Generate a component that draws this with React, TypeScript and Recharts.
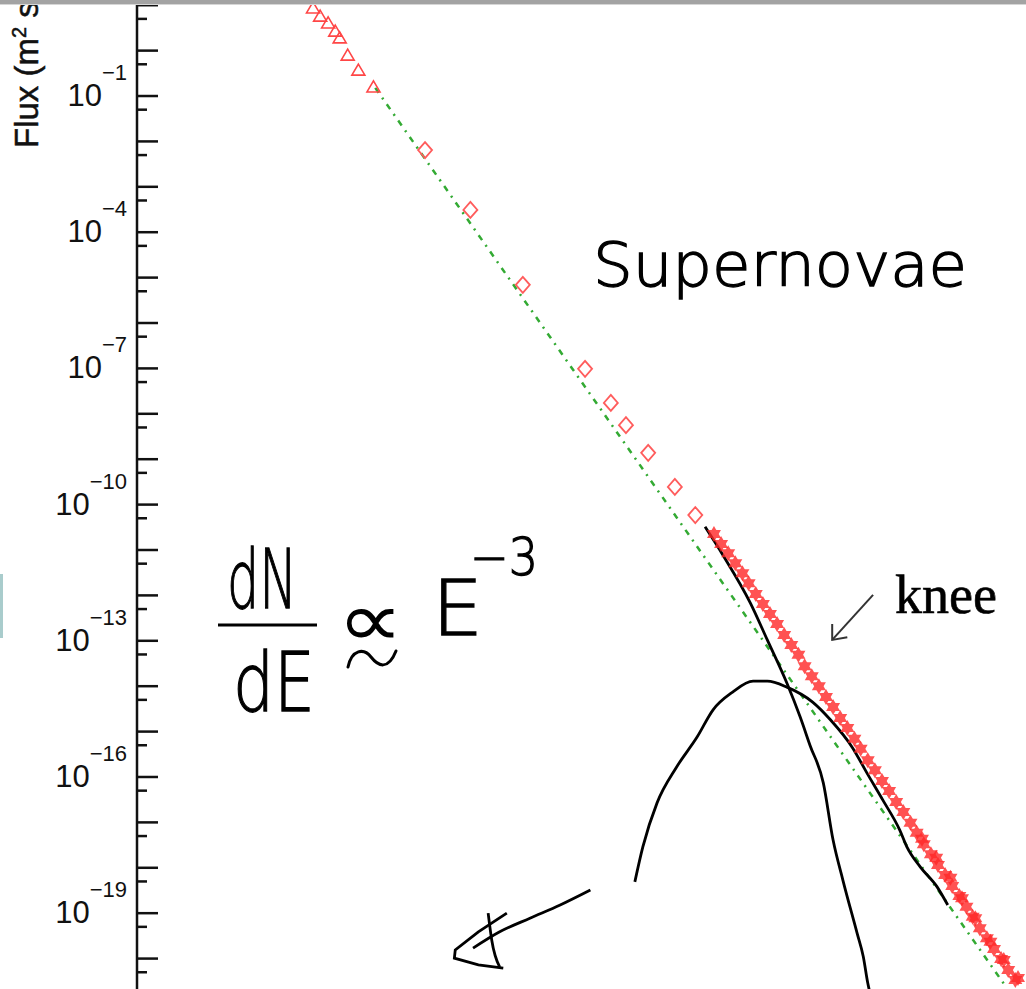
import { ComposedChart, Line, Scatter, XAxis, YAxis } from 'recharts'

// x: log10(E / eV), y: log10(flux)
const TRIANGLE_E = [10.98, 11.06, 11.15, 11.23, 11.28, 11.37, 11.49, 11.66]
const TRIANGLE_F = [0.94, 0.76, 0.61, 0.43, 0.28, -0.1, -0.43, -0.8]

const DIAMOND_E = [12.24, 12.75, 13.34, 14.04, 14.33, 14.5, 14.75, 15.05, 15.28]
const DIAMOND_F = [-2.19, -3.51, -5.16, -7.01, -7.76, -8.25, -8.86, -9.61, -10.23]

const STAR_E = [
  15.49, 15.57, 15.65, 15.73, 15.81, 15.88, 15.96, 16.04, 16.12, 16.2, 16.28, 16.36, 16.44, 16.51, 16.59,
  16.67, 16.75, 16.83, 16.91, 16.99, 17.07, 17.14, 17.22, 17.3, 17.38, 17.46, 17.54, 17.62, 17.7, 17.77,
  17.85, 17.93, 18.01, 18.09, 18.17, 18.25, 18.33, 18.4, 18.48, 18.56, 18.64, 18.72, 18.8, 18.88,
]
const STAR_F = [
  -10.65, -10.87, -11.07, -11.29, -11.51, -11.73, -11.97, -12.19, -12.41, -12.63, -12.87, -13.09, -13.31,
  -13.56, -13.78, -14.0, -14.24, -14.46, -14.7, -14.92, -15.16, -15.38, -15.63, -15.85, -16.09, -16.31,
  -16.55, -16.77, -17.01, -17.23, -17.48, -17.7, -17.94, -18.16, -18.4, -18.62, -18.86, -19.08, -19.33,
  -19.55, -19.79, -20.01, -20.25, -20.47,
]
const STAR2_E = [17.83, 17.99, 18.15, 18.28, 18.43, 18.6, 18.75, 18.91]
const STAR2_F = [-17.36, -17.78, -18.22, -18.67, -19.11, -19.63, -20.03, -20.43]

// E^-3 guide
const GUIDE_E = [11.68, 18.76]
const GUIDE_F = [-0.82, -20.58]

// hand-drawn curves
const STEEP_E = [15.39, 15.59, 15.9, 16.09, 16.31, 16.46, 16.57, 16.72, 16.83, 16.94, 17.1, 17.17, 17.22, 17.25]
const STEEP_F = [-10.49, -11.11, -12.17, -12.98, -13.93, -14.68, -15.3, -16.13, -17.39, -18.27, -19.44, -19.96, -20.54, -20.8]

const BUMP_E = [14.6, 14.69, 14.85, 15.07, 15.3, 15.48, 15.7, 15.93, 16.09, 16.31, 16.6, 16.8, 17.05, 17.21, 17.39, 17.58, 17.66, 17.81, 18.0, 18.12]
const BUMP_F = [-18.31, -17.54, -16.57, -15.78, -15.12, -14.52, -14.13, -13.89, -13.89, -14.02, -14.35, -14.74, -15.36, -15.91, -16.51, -17.17, -17.54, -17.98, -18.42, -18.82]

const ARROW_E = [14.1, 13.76, 13.42, 13.08, 12.78]
const ARROW_F = [-18.49, -18.82, -19.11, -19.41, -19.77]
const ARROWHEAD_E = [13.16, 12.84, 12.58, 12.57, 12.84, 13.12]
const ARROWHEAD_F = [-19.0, -19.41, -19.81, -19.99, -20.14, -20.21]
const ARROWSTROKE_E = [12.95, 12.99, 13.08]
const ARROWSTROKE_F = [-19.0, -19.59, -20.19]

const KNEE_E = [17.28, 16.82]
const KNEE_F = [-11.99, -12.98]
const KNEEHEAD_E = [16.82, 16.82, 16.99]
const KNEEHEAD_F = [-12.63, -12.98, -12.92]

const MAJOR_TICKS = [1, 0, -1, -2, -3, -4, -5, -6, -7, -8, -9, -10, -11, -12, -13, -14, -15, -16, -17, -18, -19, -20]
const MINOR_TICKS = MAJOR_TICKS.map((n) => n - 0.301)
const LABELLED = [-1, -4, -7, -10, -13, -16, -19]

const zip = (xs: number[], ys: number[]) => xs.map((x, i) => ({ x, y: ys[i] }))

const AXIS_FONT = '"Liberation Sans", Arial, sans-serif'
const HAND_FONT = '"DejaVu Sans", sans-serif'

function FluxTick({ x, y, payload }: any) {
  const v = payload.value as number
  const major = Math.abs(v - Math.round(v)) < 0.01
  const label = major && LABELLED.includes(Math.round(v))
  return (
    <g>
      <line x1={x} x2={x + (major ? 21 : 10)} y1={y} y2={y} stroke="#111" strokeWidth={2.5} />
      {label && (
        <text x={127} y={y + 10} textAnchor="end" fontFamily={AXIS_FONT} fontSize={31} fill="#111">
          10
          <tspan dy={-26} fontSize={22}>
            {'\u2212' + Math.abs(Math.round(v))}
          </tspan>
        </text>
      )}
    </g>
  )
}

const Triangle = ({ cx, cy }: any) => (
  <path d={`M${cx},${cy - 6} L${cx + 6.5},${cy + 5} L${cx - 6.5},${cy + 5} Z`} fill="none" stroke="#ff4646" strokeWidth={1.6} />
)
const Diamond = ({ cx, cy }: any) => (
  <path d={`M${cx},${cy - 8} L${cx + 7},${cy} L${cx},${cy + 8} L${cx - 7},${cy} Z`} fill="none" stroke="#ff5c5c" strokeWidth={1.8} />
)
const Star = ({ cx, cy }: any) => (
  <g fill="#ff2828" opacity={0.8}>
    <path d={`M${cx - 7},${cy - 4} L${cx + 7},${cy - 4} L${cx},${cy + 8} Z`} />
    <path d={`M${cx},${cy - 8} L${cx + 7},${cy + 4} L${cx - 7},${cy + 4} Z`} />
  </g>
)

export default function App() {
  return (
    <div style={{ position: 'absolute', left: 0, top: 0, width: 1026, height: 989, background: '#fff', overflow: 'hidden' }}>
      <ComposedChart width={1026} height={989} margin={{ top: 0, right: 0, bottom: 0, left: 0 }}>
        <XAxis type="number" dataKey="x" domain={[9, 19]} allowDataOverflow hide />
        <YAxis
          type="number"
          dataKey="y"
          width={137}
          domain={[-20.67, 1.115]}
          allowDataOverflow
          ticks={[...MAJOR_TICKS, ...MINOR_TICKS]}
          interval={0}
          tickSize={0}
          tickMargin={0}
          tickLine={false}
          axisLine={{ stroke: '#111', strokeWidth: 2.5 }}
          tick={<FluxTick />}
        />
        <Line data={zip(GUIDE_E, GUIDE_F)} dataKey="y" type="linear" stroke="#33aa33" strokeWidth={2.5} strokeDasharray="6 6 2 6" dot={false} isAnimationActive={false} />
        <Scatter data={zip(TRIANGLE_E, TRIANGLE_F)} shape={<Triangle />} isAnimationActive={false} />
        <Scatter data={zip(DIAMOND_E, DIAMOND_F)} shape={<Diamond />} isAnimationActive={false} />
        <Scatter data={zip(STAR_E, STAR_F)} shape={<Star />} isAnimationActive={false} />
        <Scatter data={zip(STAR2_E, STAR2_F)} shape={<Star />} isAnimationActive={false} />
        <Line data={zip(STEEP_E, STEEP_F)} dataKey="y" type="monotone" stroke="#000" strokeWidth={2.8} dot={false} isAnimationActive={false} />
        <Line data={zip(BUMP_E, BUMP_F)} dataKey="y" type="monotone" stroke="#000" strokeWidth={2.8} dot={false} isAnimationActive={false} />
        <Line data={zip(ARROW_E, ARROW_F)} dataKey="y" type="monotone" stroke="#000" strokeWidth={2.8} dot={false} isAnimationActive={false} />
        <Line data={zip(ARROWHEAD_E, ARROWHEAD_F)} dataKey="y" type="linear" stroke="#000" strokeWidth={2.8} dot={false} isAnimationActive={false} />
        <Line data={zip(ARROWSTROKE_E, ARROWSTROKE_F)} dataKey="y" type="monotone" stroke="#000" strokeWidth={2.8} dot={false} isAnimationActive={false} />
        <Line data={zip(KNEE_E, KNEE_F)} dataKey="y" type="linear" stroke="#333" strokeWidth={2} dot={false} isAnimationActive={false} />
        <Line data={zip(KNEEHEAD_E, KNEEHEAD_F)} dataKey="y" type="linear" stroke="#333" strokeWidth={2} dot={false} isAnimationActive={false} />
      </ComposedChart>

      <svg width={1026} height={989} style={{ position: 'absolute', left: 0, top: 0, pointerEvents: 'none' }}>
        <text x={38} y={148} transform="rotate(-90 38 148)" fontFamily={AXIS_FONT} fontSize={33} fill="#111" stroke="#111" strokeWidth={0.5}>
          Flux (m<tspan dy={-12} fontSize={20}>2</tspan>
          <tspan dy={12}> sr s GeV)</tspan>
        </text>

        <g fontFamily={HAND_FONT} fontWeight={200} fill="#000" stroke="#000" strokeWidth={1.3}>
          <text x={593} y={286} fontSize={60} textLength={374} lengthAdjust="spacingAndGlyphs">
            Supernovae
          </text>
          <text x={227} y={608} fontSize={82} textLength={70} lengthAdjust="spacingAndGlyphs">
            dN
          </text>
          <text x={233} y={711} fontSize={82} textLength={82} lengthAdjust="spacingAndGlyphs">
            dE
          </text>
          <text x={432} y={635} fontSize={77} textLength={51} lengthAdjust="spacingAndGlyphs">
            E
          </text>
          <text x={470} y={575} fontSize={52} textLength={68} lengthAdjust="spacingAndGlyphs">
            {'\u22123'}
          </text>
        </g>
        <line x1={218} x2={317} y1={625} y2={625} stroke="#000" strokeWidth={3} />
        <text x={337} y={646} fontFamily="Inter, sans-serif" fontWeight={200} fontSize={76} textLength={66} lengthAdjust="spacingAndGlyphs" fill="#000">
          ∝
        </text>
        {/* hand-drawn squiggle under the ∝ */}
        <path d="M348,667 C352,649 364,648 371,657 S388,671 396,651" fill="none" stroke="#000" strokeWidth={3} strokeLinecap="round" />

        <text x={895} y={613} fontFamily='"Liberation Serif", "Times New Roman", serif' fontSize={54} textLength={102} lengthAdjust="spacingAndGlyphs" fill="#000" stroke="#000" strokeWidth={0.6}>
          knee
        </text>
      </svg>

      <div style={{ position: 'absolute', left: 0, top: 0, width: 1026, height: 4, background: '#a3a3a3' }} />
      <div style={{ position: 'absolute', left: 0, top: 4, width: 1026, height: 1, background: '#d6d6d6' }} />
      <div style={{ position: 'absolute', left: 0, top: 574, width: 3, height: 64, background: '#a9cccc' }} />
    </div>
  )
}
